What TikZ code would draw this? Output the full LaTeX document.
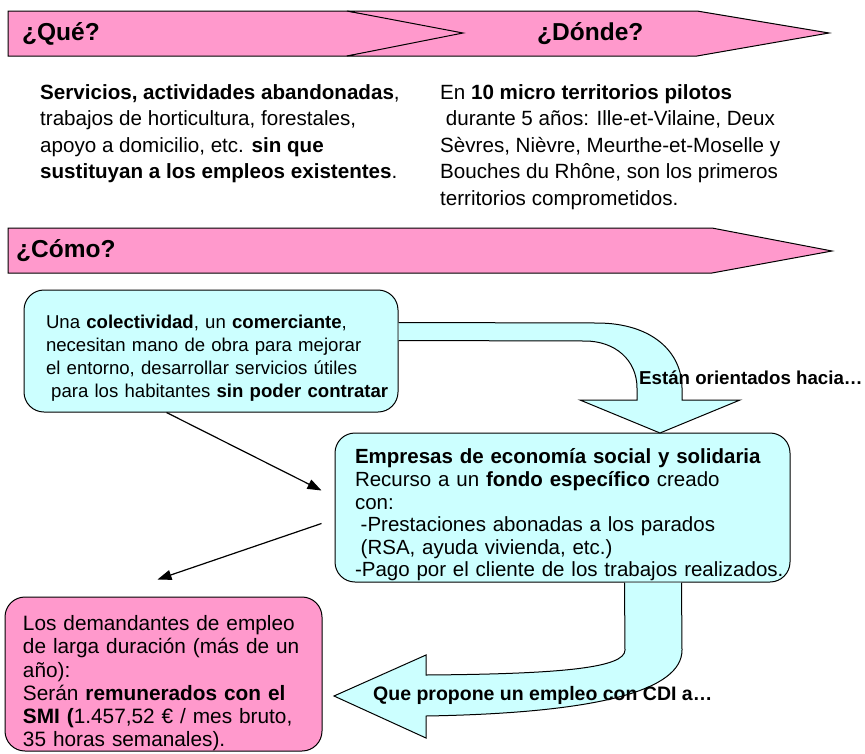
\documentclass[tikz,border=0pt]{standalone}
\usepackage{fontspec}
\setmainfont{Liberation Sans}
\usetikzlibrary{arrows.meta, calc}
\definecolor{rosa}{RGB}{255,153,204}
\definecolor{celeste}{RGB}{204,255,255}
\newcommand{\alto}[1]{\rule{0pt}{#1}}
\tikzstyle{banner} = [draw=black, fill=rosa, line width=1pt]
\tikzstyle{titulo} = [anchor=west, inner sep=0pt, font=\fontsize{24.5}{28}\selectfont\bfseries]
\tikzstyle{texto} = [anchor=north west, inner sep=0pt, align=left, font=\fontsize{20.6}{26.6}\selectfont]
\tikzstyle{caja} = [rectangle, rounded corners=20pt, draw=black, line width=1pt, fill=celeste, align=left, inner ysep=0pt, font=\fontsize{20.8}{22.8}\selectfont]
\tikzstyle{bloque} = [draw=black, fill=celeste, line width=1pt]
\tikzstyle{rotulo} = [anchor=west, inner sep=0pt, font=\fontsize{18.7}{22}\selectfont\bfseries]
\tikzstyle{flecha} = [line width=1.2pt, -{Triangle[length=14pt,width=10pt]}]

\begin{document}
\begin{tikzpicture}[x=1pt, y=-1pt] % 1 unidad = 1 px, y hacia abajo
    \useasboundingbox (0,0) rectangle (865,753);

    % Cintas de titulo
    \draw [banner] (8,11) -- (347,11) -- (478,33) -- (347,56) -- (8,56) -- cycle;
    \draw [banner] (347,11) -- (697,11) -- (829,33) -- (697,56) -- (347,56) -- (463,33) -- cycle;
    \draw [banner] (8,228) -- (712,228) -- (832,251) -- (712,273) -- (8,273) -- cycle;
    \node (tque) [titulo] at (22,34) {¿Qué?};
    \node (tdonde) [titulo] at (537,34) {¿Dónde?};
    \node (tcomo) [titulo] at (16,251) {¿Cómo?};

    % Textos de arriba
    \node (que) [texto] at (40,84) {\textbf{Servicios, actividades abandonadas},\\
        trabajos de horticultura, forestales,\\
        apoyo a domicilio, etc. \textbf{sin que}\\
        \textbf{sustituyan a los empleos existentes}.};
    \node (donde) [texto] at (440,84) {En \textbf{10 micro territorios pilotos}\\
        \hspace*{5.7pt}durante 5 años: Ille-et-Vilaine, Deux\\
        Sèvres, Nièvre, Meurthe-et-Moselle y\\
        Bouches du Rhône, son los primeros\\
        territorios comprometidos.};

    % Cajas
    \node (colectividad) [caja, font=\fontsize{18.6}{23}\selectfont, text width=330pt, inner xsep=22pt, minimum height=122pt] at (211,351)
        {\alto{27pt}Una \textbf{colectividad}, un \textbf{comerciante},\\
        necesitan mano de obra para mejorar\\
        el entorno, desarrollar servicios útiles\\
        \mbox{\hspace*{5.2pt}para los habitantes \textbf{sin poder contratar}}};
    \node (empresas) [caja, font=\fontsize{20.5}{22.6}\selectfont, text width=415pt, inner xsep=20pt, minimum height=149pt] at (562.5,507.5)
        {\alto{30pt}\textbf{Empresas de economía social y solidaria}\\
        Recurso a un \textbf{fondo específico} creado\\
        con:\\
        \hspace*{5.7pt}-Prestaciones abonadas a los parados\\
        \hspace*{5.7pt}(RSA, ayuda vivienda, etc.)\\
        \mbox{-Pago por el cliente de los trabajos realizados.}};
    \node (demandantes) [caja, fill=rosa, font=\fontsize{20.8}{23.2}\selectfont, text width=281pt, inner xsep=18pt, minimum height=154pt] at (163.5,674)
        {\alto{33.6pt}Los demandantes de empleo\\
        de larga duración (más de un\\
        año):\\
        Serán \textbf{remunerados con el}\\
        \textbf{SMI (}1.457,52 € / mes bruto,\\
        35 horas semanales).};

    % Flechas anchas
    \draw [bloque] ($(colectividad.north east)+(0,33)$) -- (597,323)
        .. controls (652,323) and (682,352) .. (682,388) -- (682,400) -- (740,400) -- (660,433)
        -- (580,400) -- (637,400) -- (637,388) .. controls (637,360) and (615,341) .. (585,341)
        -- ($(colectividad.north east)+(0,51)$);
    \node (orientados) [rotulo] at (639,378) {Están orientados hacia…};
    \draw [bloque] ($(empresas.south west)+(290,0)$) -- (625,650)
        .. controls (625,668) and (560,674) .. (426,675) -- (426,655) -- (334,696) -- (426,738)
        -- (426,716) .. controls (600,713) and (682,690) .. (682,650)
        -- ($(empresas.south west)+(347,0)$);
    \node (propone) [rotulo, font=\fontsize{19.5}{22}\selectfont\bfseries] at (373,695) {Que propone un empleo con CDI a…};

    % Flechas finas
    \draw [flecha] ($(colectividad.south west)+(143,0)$) -- ($(empresas.west)+(-13,-17)$);
    \draw [flecha] ($(empresas.west)+(-13,16)$) -- ($(demandantes.north)+(-6,-17)$);
\end{tikzpicture}
\end{document}
